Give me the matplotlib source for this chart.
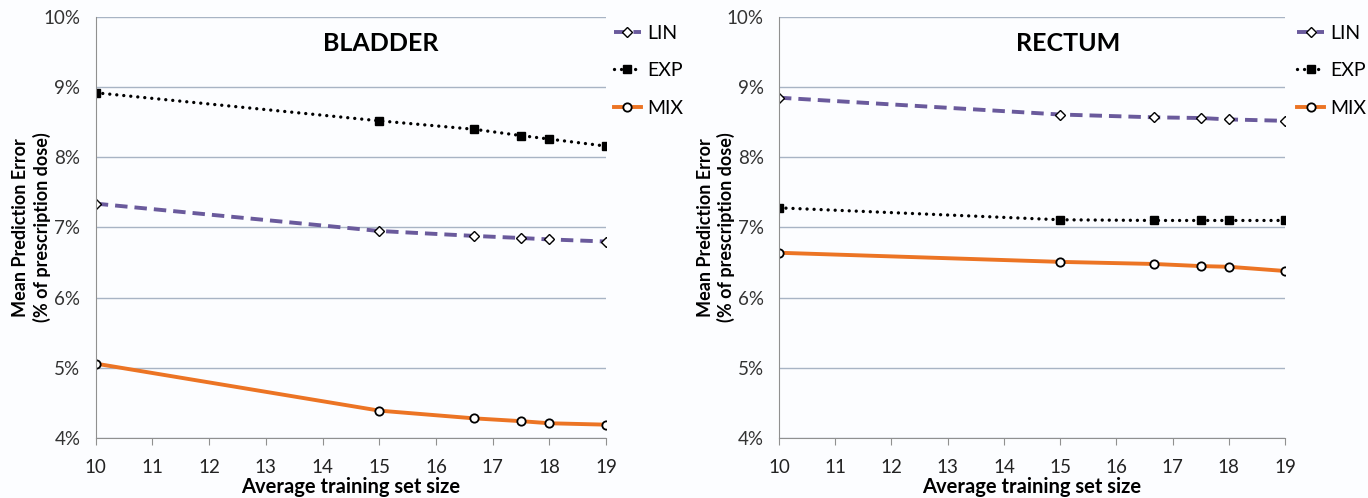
import matplotlib.pyplot as plt
from matplotlib.ticker import FuncFormatter

# training set sizes (20 patients, k-fold)
sizes = [10, 15, 16.67, 17.5, 18, 19]

bladder_lin = [7.34, 6.95, 6.88, 6.85, 6.83, 6.80]
bladder_exp = [8.92, 8.52, 8.40, 8.31, 8.26, 8.16]
bladder_mix = [5.06, 4.39, 4.28, 4.24, 4.21, 4.19]

rectum_lin = [8.85, 8.61, 8.57, 8.56, 8.54, 8.52]
rectum_exp = [7.28, 7.11, 7.10, 7.10, 7.10, 7.10]
rectum_mix = [6.64, 6.51, 6.48, 6.45, 6.44, 6.38]

panels = [("BLADDER", bladder_lin, bladder_exp, bladder_mix),
          ("RECTUM", rectum_lin, rectum_exp, rectum_mix)]

plt.rcParams['font.family'] = ['Lato', 'DejaVu Sans']

fig = plt.figure(figsize=(13.68, 4.98), dpi=100)
fig.patch.set_facecolor('#fcfdff')
rects = [[0.070, 0.1205, 0.373, 0.8454], [0.5694, 0.1205, 0.370, 0.8454]]
title_x = [0.558, 0.571]
ylab_x = [-0.088, -0.086]
leg_x = [1.0, 1.008]

for i, (rect, (title, lin, exp, mix)) in enumerate(zip(rects, panels)):
    ax = fig.add_axes(rect)
    ax.set_facecolor('#fcfdff')
    ax.plot(sizes, lin, color='#6a5a9c', lw=2.8, dashes=(3.2, 1.8),
            marker='D', ms=5, mfc='white', mec='black', mew=1, label='LIN')
    ax.plot(sizes, exp, color='black', lw=2.4, ls=(0, (0.01, 2.1)),
            dash_capstyle='round', marker='s', ms=6, mfc='black',
            mec='black', label='EXP')
    ax.plot(sizes, mix, color='#ec7424', lw=2.8, marker='o', ms=6,
            mfc='white', mec='black', mew=1.3, label='MIX')
    ax.set_xlim(10, 19)
    ax.set_ylim(4, 10)
    ax.set_xticks(range(10, 20))
    ax.set_yticks(range(4, 11))
    ax.yaxis.set_major_formatter(FuncFormatter(lambda v, p: '%d%%' % v))
    ax.grid(axis='y', color='#a8b4c4', lw=1)
    ax.set_axisbelow(True)
    for s in ['top', 'right']:
        ax.spines[s].set_visible(False)
    for s in ['left', 'bottom']:
        ax.spines[s].set_color('#909090')
    ax.tick_params(axis='y', length=0, labelsize=13.5, pad=11,
                   colors='#333333')
    ax.tick_params(axis='x', length=5, color='#909090', labelsize=13.5,
                   pad=10, labelcolor='#222222')
    ax.set_xlabel('Average training set size', fontsize=14.5,
                  fontweight='bold', labelpad=1)
    ax.set_ylabel('Mean Prediction Error\n(% of prescription dose)',
                  fontsize=13, fontweight='bold', linespacing=1.25)
    ax.yaxis.set_label_coords(ylab_x[i], 0.5)
    ax.text(title_x[i], 0.937, title, transform=ax.transAxes, ha='center',
            va='center', fontsize=18, fontweight='bold')
    ax.legend(loc='upper left', bbox_to_anchor=(leg_x[i], 1.0),
              frameon=False, fontsize=14, handlelength=1.4, labelspacing=1.05,
              handletextpad=0.3, borderaxespad=0.0)

fig.savefig('out.png', dpi=100, facecolor=fig.get_facecolor())
